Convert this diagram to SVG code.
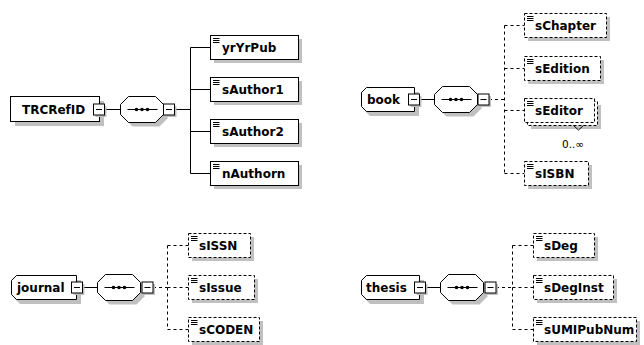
<svg xmlns="http://www.w3.org/2000/svg" width="644" height="345" viewBox="0 0 644 345">
<defs>
<style>
.sh{fill:#c0c0c0;stroke:none}
.bx{fill:#fff;stroke:#000;stroke-width:1}
.bxd{fill:#fff;stroke:#000;stroke-width:1;stroke-dasharray:3 2}
.ln{stroke:#000;stroke-width:1;fill:none}
.lnd{stroke:#000;stroke-width:1;fill:none;stroke-dasharray:3 3}
.t{font-family:"DejaVu Sans","Liberation Sans",sans-serif;font-weight:bold;font-size:12px;fill:#000}
.o{font-family:"DejaVu Sans","Liberation Sans",sans-serif;font-size:10.5px;fill:#000}
</style>
<g id="ic"><path d="M2.5,3H9M2.5,5H9M2.5,7H9" stroke="#000" stroke-width="1" fill="none"/></g>
<g id="mb"><rect x="2" y="2" width="11" height="11" class="sh"/><rect x="0" y="0" width="11" height="11" class="bx"/><path d="M2.5,5.5H8.5" class="ln"/></g>
<g id="seq"><path d="M12,4.5H39L47,12.5V22.5L39,30.5H12L4,22.5V12.5Z" class="sh"/><path d="M8,0.5H35L43,8.5V18.5L35,26.5H8L0,18.5V8.5Z" class="bx"/><path d="M7,13.5H37" class="ln"/><circle cx="16" cy="13.5" r="1.8"/><circle cx="21.5" cy="13.5" r="1.8"/><circle cx="27" cy="13.5" r="1.8"/></g>
</defs>
<rect width="644" height="345" fill="#fff"/>

<g id="connectors">
<path d="M104.5,109.5H120.5M174,109.5H190.5M190.5,47.5V173.5M190.5,47.5H210.5M190.5,89.5H210.5M190.5,131.5H210.5M190.5,173.5H210.5" class="ln"/>
<path d="M419.5,99.5H434.5" class="ln"/>
<path d="M489,99.5H504.5M504.5,25.5V173.5M504.5,25.5H524.5M504.5,68.5H524.5M504.5,110.5H524.5M504.5,173.5H524.5" class="lnd"/>
<path d="M82.5,287.5H97.5" class="ln"/>
<path d="M153,287.5H167.5M167.5,245.5V329.5M167.5,245.5H188.5M167.5,287.5H188.5M167.5,329.5H188.5" class="lnd"/>
<path d="M425.5,287.5H440.5" class="ln"/>
<path d="M496,287.5H512.5M512.5,245.5V329.5M512.5,245.5H533.5M512.5,287.5H533.5M512.5,329.5H533.5" class="lnd"/>
</g>

<g id="TRCRefID">
<rect x="15" y="101" width="89" height="25" class="sh"/>
<rect x="10.5" y="96.5" width="89" height="25" class="bx"/>
<text x="22" y="113.5" class="t">TRCRefID</text>
<use href="#mb" x="93.5" y="104"/>
</g>
<g id="seq1"><use href="#seq" x="120.5" y="96"/><use href="#mb" x="163.5" y="104"/></g>
<g id="yrYrPub"><rect x="214" y="39" width="88" height="24" class="sh"/><rect x="210.5" y="35.5" width="88" height="24" class="bx"/><use href="#ic" x="210.5" y="35.5"/><text x="222" y="52" class="t">yrYrPub</text></g>
<g id="sAuthor1"><rect x="214" y="81" width="88" height="24" class="sh"/><rect x="210.5" y="77.5" width="88" height="24" class="bx"/><use href="#ic" x="210.5" y="77.5"/><text x="222" y="94" class="t">sAuthor1</text></g>
<g id="sAuthor2"><rect x="214" y="123" width="88" height="24" class="sh"/><rect x="210.5" y="119.5" width="88" height="24" class="bx"/><use href="#ic" x="210.5" y="119.5"/><text x="222" y="136" class="t">sAuthor2</text></g>
<g id="nAuthorn"><rect x="214" y="165" width="88" height="24" class="sh"/><rect x="210.5" y="161.5" width="88" height="24" class="bx"/><use href="#ic" x="210.5" y="161.5"/><text x="222" y="178" class="t">nAuthorn</text></g>

<g id="book">
<path d="M370,92H419V116H370L365,111V97Z" class="sh"/>
<path d="M366.5,87.5H414.5V111.5H366.5L361.5,106.5V92.5Z" class="bx"/>
<text x="367" y="104" class="t">book</text>
<use href="#mb" x="408.5" y="94"/>
</g>
<g id="seq2"><use href="#seq" x="434.5" y="86"/><use href="#mb" x="478" y="94"/></g>
<g id="sChapter"><rect x="528" y="17" width="82" height="24" class="sh"/><rect x="524.5" y="13.5" width="82" height="24" class="bxd"/><use href="#ic" x="524.5" y="13.5"/><text x="535" y="30" class="t">sChapter</text></g>
<g id="sEdition"><rect x="528" y="60" width="76" height="24" class="sh"/><rect x="524.5" y="56.5" width="76" height="24" class="bxd"/><use href="#ic" x="524.5" y="56.5"/><text x="535" y="73" class="t">sEdition</text></g>
<g id="sEditor"><rect x="531" y="105" width="70" height="24" class="sh"/><rect x="527.5" y="101.5" width="70" height="24" class="bxd"/><rect x="524.5" y="98.5" width="70" height="24" class="bxd"/><use href="#ic" x="524.5" y="98.5"/><text x="535" y="115" class="t">sEditor</text><path d="M573.5,125.5L578.5,130L583.5,125.5" class="ln"/><text x="562" y="148" class="o">0..∞</text></g>
<g id="sISBN"><rect x="528" y="165" width="64" height="24" class="sh"/><rect x="524.5" y="161.5" width="64" height="24" class="bxd"/><use href="#ic" x="524.5" y="161.5"/><text x="535" y="178" class="t">sISBN</text></g>

<g id="journal">
<path d="M20,280H81V304H20L15,299V285Z" class="sh"/>
<path d="M16.5,275.5H76.5V299.5H16.5L11.5,294.5V280.5Z" class="bx"/>
<text x="17" y="292" class="t">journal</text>
<use href="#mb" x="71.5" y="282"/>
</g>
<g id="seq3"><use href="#seq" x="97.5" y="274"/><use href="#mb" x="142" y="282"/></g>
<g id="sISSN"><rect x="192" y="237" width="62" height="24" class="sh"/><rect x="188.5" y="233.5" width="62" height="24" class="bxd"/><use href="#ic" x="188.5" y="233.5"/><text x="199" y="250" class="t">sISSN</text></g>
<g id="sIssue"><rect x="192" y="279" width="66" height="24" class="sh"/><rect x="188.5" y="275.5" width="66" height="24" class="bxd"/><use href="#ic" x="188.5" y="275.5"/><text x="199" y="292" class="t">sIssue</text></g>
<g id="sCODEN"><rect x="192" y="321" width="71" height="24" class="sh"/><rect x="188.5" y="317.5" width="71" height="24" class="bxd"/><use href="#ic" x="188.5" y="317.5"/><text x="199" y="334" class="t">sCODEN</text></g>

<g id="thesis">
<path d="M370,280H424V304H370L365,299V285Z" class="sh"/>
<path d="M366.5,275.5H419.5V299.5H366.5L361.5,294.5V280.5Z" class="bx"/>
<text x="366" y="292" class="t">thesis</text>
<use href="#mb" x="414.5" y="282"/>
</g>
<g id="seq4"><use href="#seq" x="440.5" y="274"/><use href="#mb" x="485" y="282"/></g>
<g id="sDeg"><rect x="537" y="237" width="61" height="24" class="sh"/><rect x="533.5" y="233.5" width="61" height="24" class="bxd"/><use href="#ic" x="533.5" y="233.5"/><text x="544" y="250" class="t">sDeg</text></g>
<g id="sDegInst"><rect x="537" y="279" width="80" height="24" class="sh"/><rect x="533.5" y="275.5" width="80" height="24" class="bxd"/><use href="#ic" x="533.5" y="275.5"/><text x="544" y="292" class="t">sDegInst</text></g>
<g id="sUMIPubNum"><rect x="537" y="321" width="103" height="24" class="sh"/><rect x="533.5" y="317.5" width="103" height="24" class="bxd"/><use href="#ic" x="533.5" y="317.5"/><text x="544" y="334" class="t">sUMIPubNum</text></g>
</svg>
